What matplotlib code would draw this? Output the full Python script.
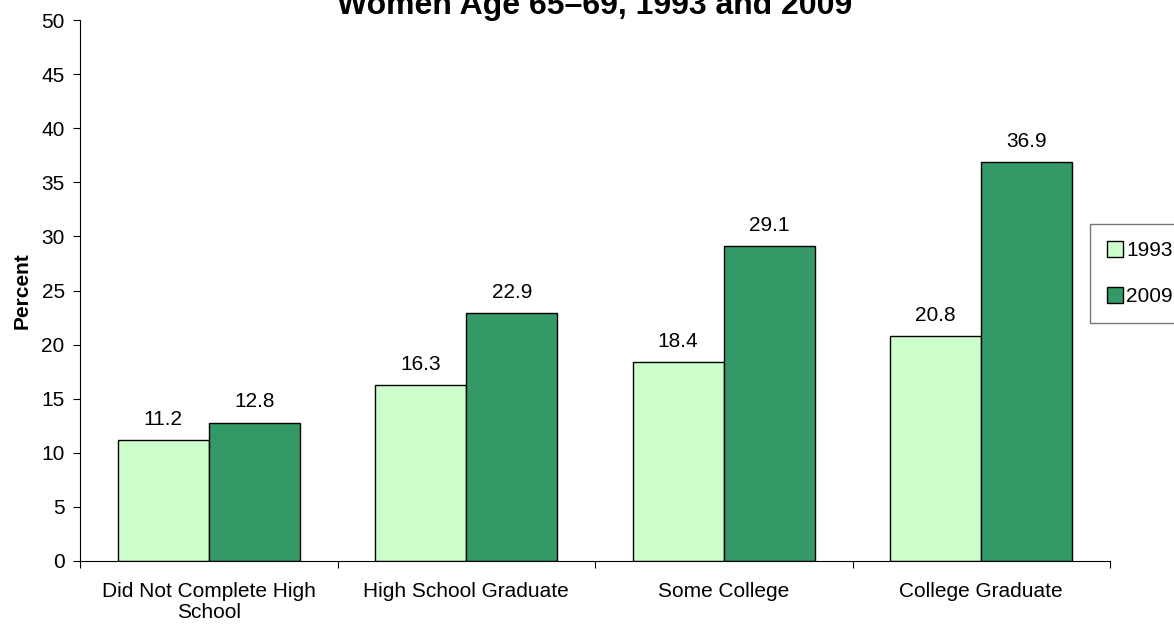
import numpy as np
import matplotlib.pyplot as plt

categories = ["Did Not Complete High\nSchool", "High School Graduate", "Some College", "College Graduate"]
years = ["1993", "2009"]
values_1993 = [11.2, 16.3, 18.4, 20.8]
values_2009 = [12.8, 22.9, 29.1, 36.9]
colors = ["#CCFFCC", "#339966"]

plt.rcParams['font.family'] = ['Liberation Sans', 'DejaVu Sans']

fig = plt.figure(figsize=(11.74, 6.25), dpi=100)
ax = fig.add_axes([80 / 1174, 1 - 561 / 625, 1030 / 1174, 541 / 625])

x = np.arange(len(categories))
w = 0.354
b1 = ax.bar(x - w / 2, values_1993, w, color=colors[0], edgecolor='black', linewidth=1, label=years[0])
b2 = ax.bar(x + w / 2, values_2009, w, color=colors[1], edgecolor='black', linewidth=1, label=years[1])
for bars, vals in [(b1, values_1993), (b2, values_2009)]:
    for r, v in zip(bars, vals):
        ax.annotate(f"{v:.1f}", (r.get_x() + r.get_width() / 2, v), xytext=(0, 8),
                    textcoords='offset points', ha='center', va='bottom', fontsize=15)

ax.set_xlim(-0.5, len(categories) - 0.5)
ax.set_ylim(0, 50)
ax.set_yticks(range(0, 51, 5))
ax.set_xticks(np.arange(len(categories) + 1) - 0.5)
ax.set_xticklabels([])
ax.set_xticks(x, minor=True)
ax.set_xticklabels(categories, minor=True, fontsize=15, linespacing=1.15)
ax.tick_params(axis='x', which='minor', length=0, pad=15)
ax.tick_params(axis='x', which='major', length=5, direction='out')
ax.tick_params(axis='y', length=5, labelsize=15, direction='out', pad=6)
for s in ['top', 'right']:
    ax.spines[s].set_visible(False)
ax.set_ylabel("Percent", fontsize=15, fontweight='bold', labelpad=7)

# title sits partly above the top edge, as in the source image
fig.text(595 / 1174, 1 - 14 / 625, "Women Age 65\u201369, 1993 and 2009", ha='center', va='baseline',
         fontsize=23, fontweight='bold')

leg = ax.legend(loc='upper left', bbox_to_anchor=(1090 / 1174, 1 - 224 / 625), bbox_transform=fig.transFigure,
                fontsize=15, frameon=True, fancybox=False, edgecolor='#555555', handlelength=0.8,
                handleheight=0.8, handletextpad=0.15, labelspacing=1.3, borderpad=0.8, borderaxespad=0)
leg.get_frame().set_linewidth(1.0)

fig.savefig("out.png", dpi=100)
